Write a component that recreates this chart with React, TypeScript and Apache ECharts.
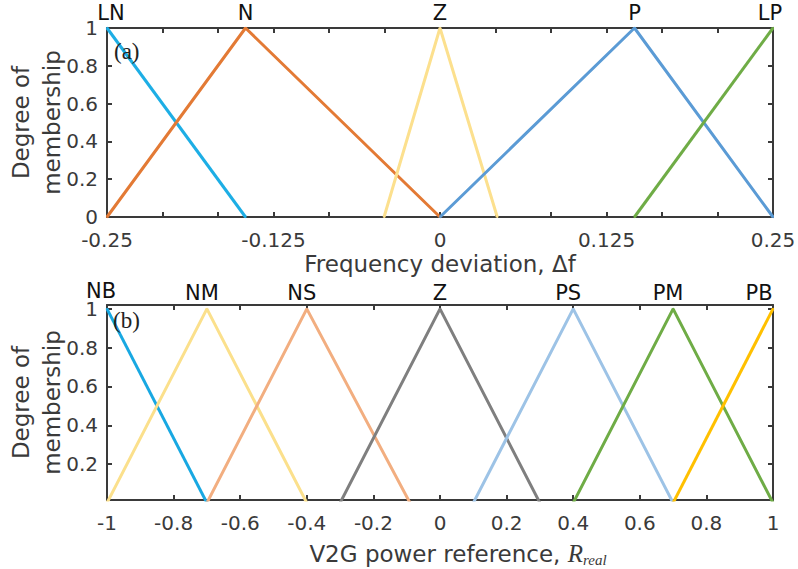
import React, { useEffect, useRef } from "react";
import * as echarts from "echarts";

// ---- Panel (a): frequency deviation membership functions ----
const topNames = ["LN", "N", "Z", "P", "LP"];
const lnX = [-0.25, -0.146];
const lnY = [1, 0];
const nX = [-0.25, -0.146, 0];
const nY = [0, 1, 0];
const zTopX = [-0.042, 0, 0.043];
const zTopY = [0, 1, 0];
const pX = [0, 0.146, 0.25];
const pY = [0, 1, 0];
const lpX = [0.146, 0.25];
const lpY = [0, 1];
const topTickValues = [-0.25, -0.20833, -0.16667, -0.125, -0.08333, -0.04167, 0, 0.04167, 0.08333, 0.125, 0.16667, 0.20833, 0.25];
const topXLabels = [-0.25, -0.125, 0, 0.125, 0.25];
const topYLabels = [0, 0.2, 0.4, 0.6, 0.8, 1];

// ---- Panel (b): V2G power reference membership functions ----
const botNames = ["NB", "NM", "NS", "Z", "PS", "PM", "PB"];
const nbX = [-1, -0.7];
const nbY = [1, 0];
const nmX = [-1, -0.7, -0.4];
const nmY = [0, 1, 0];
const nsX = [-0.7, -0.4, -0.09];
const nsY = [0, 1, 0];
const zBotX = [-0.3, 0, 0.3];
const zBotY = [0, 1, 0];
const psX = [0.1, 0.4, 0.7];
const psY = [0, 1, 0];
const pmX = [0.4, 0.7, 1];
const pmY = [0, 1, 0];
const pbX = [0.7, 1];
const pbY = [0, 1];
const botXLabels = [-1, -0.8, -0.6, -0.4, -0.2, 0, 0.2, 0.4, 0.6, 0.8, 1];
const botYLabels = [0.2, 0.4, 0.6, 0.8, 1];

// ---- styling (kept apart from the data) ----
const topColors = ["#1DAEE5", "#E37A35", "#FCE08E", "#5B9BD5", "#6FAC46"];
const topLabelShift = [[4, 0], [0, 0], [0, 0], [0, 0], [-3, 0]];
const botColors = ["#18A8E2", "#FBE08C", "#F2AE80", "#7F7F7F", "#9DC3E6", "#6FAC46", "#FFC000"];
const botLabelShift = [[-6, -2], [-5, 0], [-5, 0], [0, 0], [-5, 0], [-5, 0], [-14, 0]];

const FONT = "DejaVu Sans";
const AXIS_COLOR = "#3a3a3a";
const TEXT_COLOR = "#3a3a3a";

function makeSeries(
  name: string,
  xs: number[],
  ys: number[],
  color: string,
  shift: number[],
  xi: number,
  yi: number
) {
  return {
    type: "line",
    name,
    xAxisIndex: xi,
    yAxisIndex: yi,
    symbol: "circle",
    symbolSize: 2,
    itemStyle: { color },
    lineStyle: { color, width: 3 },
    clip: true,
    z: 3,
    data: xs.map((x, i) =>
      ys[i] === 1
        ? {
            value: [x, ys[i]],
            label: {
              show: true,
              formatter: name,
              position: "top",
              distance: 4,
              offset: shift,
              fontFamily: FONT,
              fontSize: 21,
              color: "#111",
            },
          }
        : { value: [x, ys[i]] }
    ),
  };
}

function xAxes(gridIndex: number, min: number, max: number, ticks: number[], labels: number[], name: any, nameStyle: any, nameGap: number) {
  const common = {
    type: "value",
    gridIndex,
    min,
    max,
    splitLine: { show: false },
    axisLine: { show: true, onZero: false, lineStyle: { color: AXIS_COLOR, width: 2 } },
    axisTick: { show: true, inside: true, length: 5, customValues: ticks, lineStyle: { color: AXIS_COLOR, width: 2 } },
  };
  return [
    {
      ...common,
      position: "bottom",
      name,
      nameLocation: "middle",
      nameGap,
      nameMoveOverlap: false,
      nameTextStyle: nameStyle,
      axisLabel: {
        show: true,
        customValues: labels,
        margin: 13,
        fontFamily: FONT,
        fontSize: 20,
        color: TEXT_COLOR,
      },
    },
    {
      ...common,
      position: "top",
      axisLabel: { show: false },
    },
  ];
}

function yAxes(gridIndex: number, min: number, max: number, labels: number[]) {
  const common = {
    type: "value",
    gridIndex,
    min,
    max,
    splitLine: { show: false },
    axisLine: { show: true, onZero: false, lineStyle: { color: AXIS_COLOR, width: 2 } },
    axisTick: { show: true, inside: true, length: 5, customValues: labels, lineStyle: { color: AXIS_COLOR, width: 2 } },
  };
  return [
    {
      ...common,
      position: "left",
      name: "Degree of\nmembership",
      nameLocation: "middle",
      nameGap: 40,
      nameMoveOverlap: false,
      nameTextStyle: { fontFamily: FONT, fontSize: 23, lineHeight: 31, color: TEXT_COLOR },
      axisLabel: {
        show: true,
        customValues: labels,
        margin: 9,
        fontFamily: FONT,
        fontSize: 20,
        color: TEXT_COLOR,
      },
    },
    {
      ...common,
      position: "right",
      axisLabel: { show: false },
    },
  ];
}

export default function App() {
  const ref = useRef<HTMLDivElement>(null);

  useEffect(() => {
    if (!ref.current) return;
    const chart = echarts.init(ref.current, undefined, { renderer: "svg" });

    const topSeriesData: [number[], number[]][] = [
      [lnX, lnY],
      [nX, nY],
      [zTopX, zTopY],
      [pX, pY],
      [lpX, lpY],
    ];
    const botSeriesData: [number[], number[]][] = [
      [nbX, nbY],
      [nmX, nmY],
      [nsX, nsY],
      [zBotX, zBotY],
      [psX, psY],
      [pmX, pmY],
      [pbX, pbY],
    ];

    const series = [
      ...topSeriesData.map(([xs, ys], i) => makeSeries(topNames[i], xs, ys, topColors[i], topLabelShift[i], 0, 0)),
      ...botSeriesData.map(([xs, ys], i) => makeSeries(botNames[i], xs, ys, botColors[i], botLabelShift[i], 2, 2)),
    ];

    const option: any = {
      animation: false,
      backgroundColor: "#ffffff",
      grid: [
        { left: 107, right: 25, top: 28, height: 189, outerBoundsMode: "none" },
        { left: 107, right: 25, top: 305, height: 195, outerBoundsMode: "none" },
      ],
      xAxis: [
        ...xAxes(
          0,
          -0.25,
          0.25,
          topTickValues,
          topXLabels,
          "Frequency deviation, Δf",
          { fontFamily: FONT, fontSize: 23, color: TEXT_COLOR },
          35
        ),
        ...xAxes(
          1,
          -1,
          1,
          botXLabels,
          botXLabels,
          "{a|V2G power reference, }{r|R}{s|real}",
          {
            padding: [0, 0, 0, 36],
            rich: {
              a: { fontFamily: FONT, fontSize: 23, color: TEXT_COLOR },
              r: { fontFamily: "Liberation Serif", fontStyle: "italic", fontSize: 25, color: TEXT_COLOR },
              s: { fontFamily: "Liberation Serif", fontStyle: "italic", fontSize: 15, color: TEXT_COLOR, padding: [12, 0, 0, 0] },
            },
          },
          40
        ),
      ],
      yAxis: [...yAxes(0, 0, 1, topYLabels), ...yAxes(1, 0.015, 1.02, botYLabels)],
      series,
      graphic: [
        {
          type: "text",
          left: 114,
          top: 40,
          style: { text: "(a)", fontFamily: "Liberation Serif", fontSize: 23, fill: "#222" },
          z: 10,
        },
        {
          type: "text",
          left: 113,
          top: 309,
          style: { text: "(b)", fontFamily: "Liberation Serif", fontSize: 23, fill: "#222" },
          z: 10,
        },
      ],
    };

    chart.setOption(option);
    return () => chart.dispose();
  }, []);

  return <div ref={ref} style={{ width: 798, height: 569, position: "absolute", left: 0, top: 0 }} />;
}
